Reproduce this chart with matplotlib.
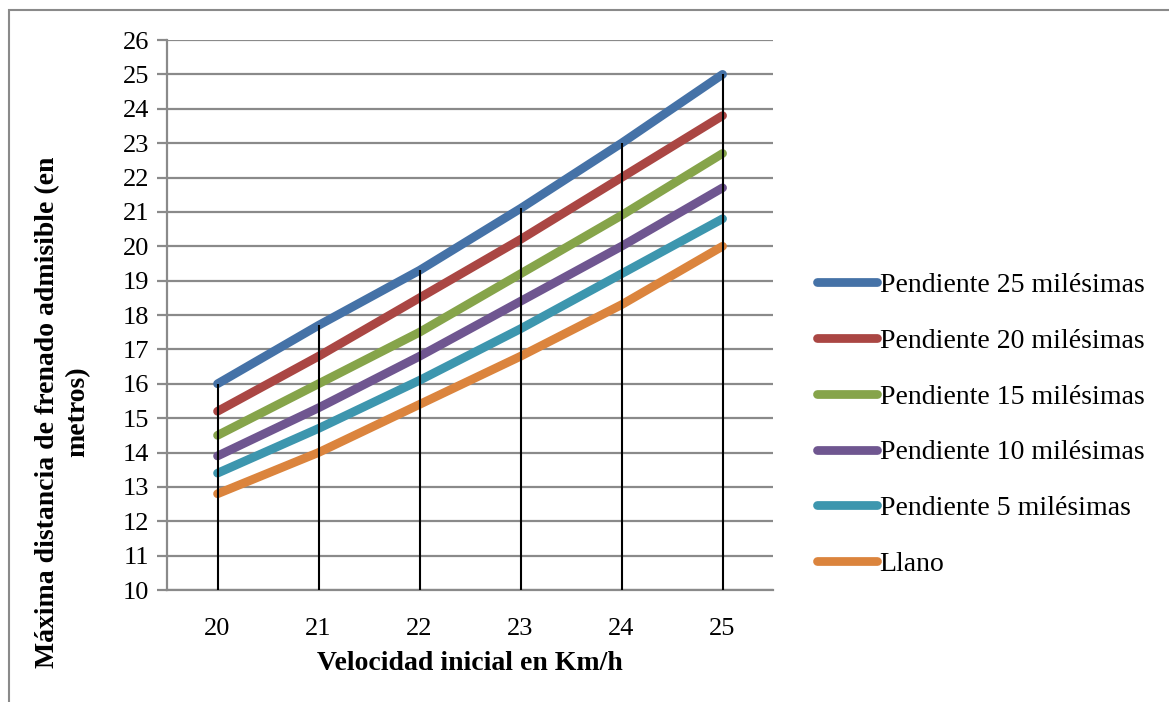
import matplotlib
matplotlib.use("Agg")
import matplotlib.pyplot as plt
from matplotlib.patches import Rectangle

# Data
velocidades = ["20", "21", "22", "23", "24", "25"]
series_names = [
    "Pendiente 25 milésimas",
    "Pendiente 20 milésimas",
    "Pendiente 15 milésimas",
    "Pendiente 10 milésimas",
    "Pendiente 5 milésimas",
    "Llano",
]
pend_25 = [16.0, 17.7, 19.3, 21.1, 23.0, 25.0]
pend_20 = [15.2, 16.8, 18.5, 20.2, 22.0, 23.8]
pend_15 = [14.5, 16.0, 17.5, 19.2, 20.9, 22.7]
pend_10 = [13.9, 15.3, 16.8, 18.4, 20.0, 21.7]
pend_5 = [13.4, 14.7, 16.1, 17.6, 19.2, 20.8]
llano = [12.8, 14.0, 15.4, 16.8, 18.3, 20.0]

series = [pend_25, pend_20, pend_15, pend_10, pend_5, llano]
colors = ["#4572A7", "#AA4643", "#86A44A", "#6F5690", "#3D96AE", "#DB843D"]

serif = ["Liberation Serif", "DejaVu Serif"]
plt.rcParams["font.family"] = serif

fig = plt.figure(figsize=(11.69, 7.02), dpi=100)
ax = fig.add_axes([0.1429, 0.1595, 0.5184, 0.7835])

x = list(range(len(velocidades)))
for vals, name, c in zip(series, series_names, colors):
    ax.plot(x, vals, color=c, lw=6.3, solid_capstyle="round",
            solid_joinstyle="round", label=name, zorder=3)

# drop lines from the axis to the highest series
tops = [max(v) for v in zip(*series)]
ax.vlines(x, 10, tops, color="black", lw=1.5, zorder=4)

ax.set_xlim(-0.5, 5.5)
ax.set_ylim(10, 26)
ax.set_yticks(range(10, 27))
ax.set_xticks(x)
ax.set_xticklabels(velocidades)
ax.grid(axis="y", color="#8a8a8a", lw=1.6, zorder=0)
ax.set_axisbelow(True)

for s in ["top", "right"]:
    ax.spines[s].set_visible(False)
for s in ["left", "bottom"]:
    ax.spines[s].set_color("#8a8a8a")
    ax.spines[s].set_linewidth(1.6)
ax.tick_params(axis="y", length=7, width=1.6, color="#8a8a8a",
               labelsize=19, pad=6)
ax.tick_params(axis="x", length=0, labelsize=19, pad=20)

ax.set_xlabel("Velocidad inicial en Km/h", fontsize=20, fontweight="bold",
              labelpad=8)
fig.text(0.0535, 0.413,
         "Máxima distancia de frenado admisible (en\nmetros)",
         rotation=90, ha="center", va="center", multialignment="center",
         fontsize=20, fontweight="bold", linespacing=1.3)

ax.legend(loc="center left", bbox_to_anchor=(0.699, 0.395),
          bbox_transform=fig.transFigure, frameon=False, fontsize=20,
          handlelength=2.15, handletextpad=0.1, labelspacing=1.09,
          borderpad=0, borderaxespad=0)

# grey frame around the chart area (cut off at right and bottom)
fig.patches.append(Rectangle((0.0077, -0.1), 1.2, 1.0852, fill=False,
                             edgecolor="#8a8a8a", lw=1.5,
                             transform=fig.transFigure, figure=fig))

fig.savefig("out.png", dpi=100)
